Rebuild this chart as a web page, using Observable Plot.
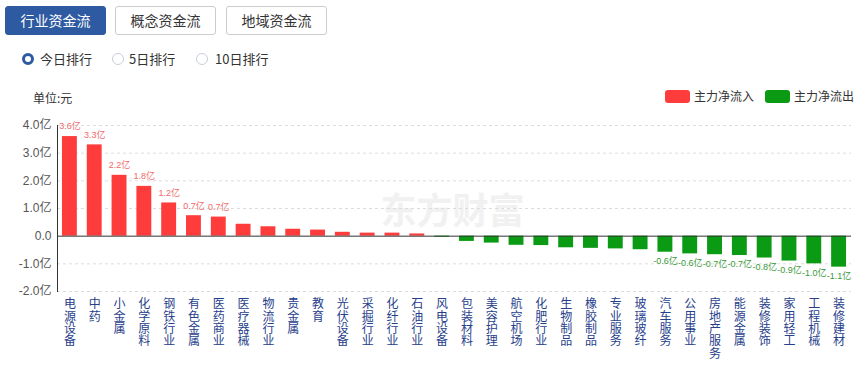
<!DOCTYPE html>
<html><head><meta charset="utf-8">
<script src="https://cdn.jsdelivr.net/npm/d3@7"></script>
<script src="https://cdn.jsdelivr.net/npm/@observablehq/plot@0.6"></script>
<style>
body{margin:0;background:#fff;font-family:Arial,"Liberation Sans","Noto Sans CJK SC",sans-serif;color:#333;}
#wrap{position:relative;width:862px;height:367px;overflow:hidden;}
.tab{position:absolute;top:6px;height:27px;width:99px;border:1px solid #ccc;border-radius:3px;background:#fff;color:#333;font-size:14px;line-height:27px;text-align:center;font-family:"Noto Sans CJK SC",sans-serif;}
.tab.active{background:#2d5aa0;border-color:#2d5aa0;color:#fff;}
.radio{position:absolute;top:53px;width:10px;height:10px;border-radius:50%;border:1px solid #c8d0dc;background:#fff;}
.radio.on{border:3px solid #2d5aa0;width:6px;height:6px;}
.rlab{position:absolute;top:51px;font-size:13px;line-height:16px;font-family:"Noto Sans CJK SC",sans-serif;color:#333;}
.unit{position:absolute;left:33px;top:89px;font-size:12px;font-family:"Noto Sans CJK SC",sans-serif;color:#333;}
.lg{position:absolute;top:90px;width:25px;height:13px;border-radius:3px;}
.lgt{position:absolute;top:88px;font-size:12px;line-height:16px;font-family:"Noto Sans CJK SC",sans-serif;color:#333;}
#chart{position:absolute;left:0;top:110px;}
</style></head>
<body><div id="wrap">
<div class="tab active" style="left:5px">行业资金流</div>
<div class="tab" style="left:115px">概念资金流</div>
<div class="tab" style="left:226px">地域资金流</div>
<div class="radio on" style="left:22px"></div><div class="rlab" style="left:40px">今日排行</div>
<div class="radio" style="left:112px"></div><div class="rlab" style="left:129px">5日排行</div>
<div class="radio" style="left:196px"></div><div class="rlab" style="left:215px">10日排行</div>
<div class="unit">单位:元</div>
<div class="lg" style="left:665px;background:#ff3c3c"></div><div class="lgt" style="left:694px">主力净流入</div>
<div class="lg" style="left:765px;background:#0a9a14"></div><div class="lgt" style="left:794px">主力净流出</div>
<div id="chart"></div>
</div>
<script>
const categories = ["电源设备","中药","小金属","化学原料","钢铁行业","有色金属","医药商业","医疗器械","物流行业","贵金属","教育","光伏设备","采掘行业","化纤行业","石油行业","风电设备","包装材料","美容护理","航空机场","化肥行业","生物制品","橡胶制品","专业服务","玻璃玻纤","汽车服务","公用事业","房地产服务","能源金属","装修装饰","家用轻工","工程机械","装修建材"];
const values = [3.6,3.3,2.2,1.8,1.2,0.74,0.69,0.43,0.34,0.25,0.22,0.14,0.11,0.11,0.08,-0.04,-0.19,-0.25,-0.33,-0.34,-0.42,-0.44,-0.46,-0.49,-0.58,-0.64,-0.67,-0.70,-0.79,-0.90,-1.0,-1.12];
const valueLabels = ["3.6亿","3.3亿","2.2亿","1.8亿","1.2亿","0.7亿","0.7亿","","","","","","","","","","","","","","","","","","-0.6亿","-0.6亿","-0.7亿","-0.7亿","-0.8亿","-0.9亿","-1.0亿","-1.1亿"];
const yTicks = [-2,-1,0,1,2,3,4];
const gridTicks = [-2,-1,1,2,3,4];
const RED = "#ff3c3c", GREEN = "#0a9a14";

const data = categories.map((c,i)=>({cat:c, v:values[i], lab:valueLabels[i]}));
const posLabeled = data.filter(d=>d.lab && d.v >= 0);
const negLabeled = data.filter(d=>d.lab && d.v < 0);

const chart = Plot.plot({
  width: 862, height: 257,
  marginLeft: 57, marginRight: 11, marginTop: 15, marginBottom: 76,
  style: {fontFamily: 'Arial,"Liberation Sans","Noto Sans CJK SC",sans-serif', background: "transparent"},
  x: {domain: categories, paddingInner: 0.4, paddingOuter: 0.2, round: false, label: null},
  y: {domain: [-2,4], label: null},
  marks: [
    Plot.text(["东方财富"], {frameAnchor: "middle", dx: -2, dy: 4, text: d=>d, fontSize: 36, fontWeight: "bold", fill: "#f1f1f1", fontFamily: '"Noto Sans CJK SC",sans-serif'}),
    Plot.ruleY(gridTicks, {stroke: "#dcdcdc", strokeDasharray: "3,3"}),
    Plot.barY(data, {x: "cat", y: "v", fill: d => d.v >= 0 ? RED : GREEN}),
    Plot.ruleY([0], {stroke: "#333", strokeWidth: 1}),
    Plot.frame({anchor: "left", stroke: "#333"}),
    Plot.axisY({ticks: yTicks, tickFormat: d => d === 0 ? "0.0" : d.toFixed(1) + "亿", tickSize: 0, tickPadding: 6, fontSize: 12, fill: "#555", label: null}),
    Plot.axisX({tickSize: 0, tickPadding: 8, tickFormat: d => d.split("").join("\n"), lineHeight: 1.03, fontSize: 12, fill: "#27408b", label: null, fontFamily: '"Noto Sans CJK SC",sans-serif'}),
    Plot.text(posLabeled, {x: "cat", y: "v", text: "lab", dy: -10, fill: "#f06a6a", fontSize: 9}),
    Plot.text(negLabeled, {x: "cat", y: "v", text: "lab", dy: 9, fill: "#3a9a3a", fontSize: 9})
  ]
});
document.getElementById("chart").appendChild(chart);
</script>
</body></html>
